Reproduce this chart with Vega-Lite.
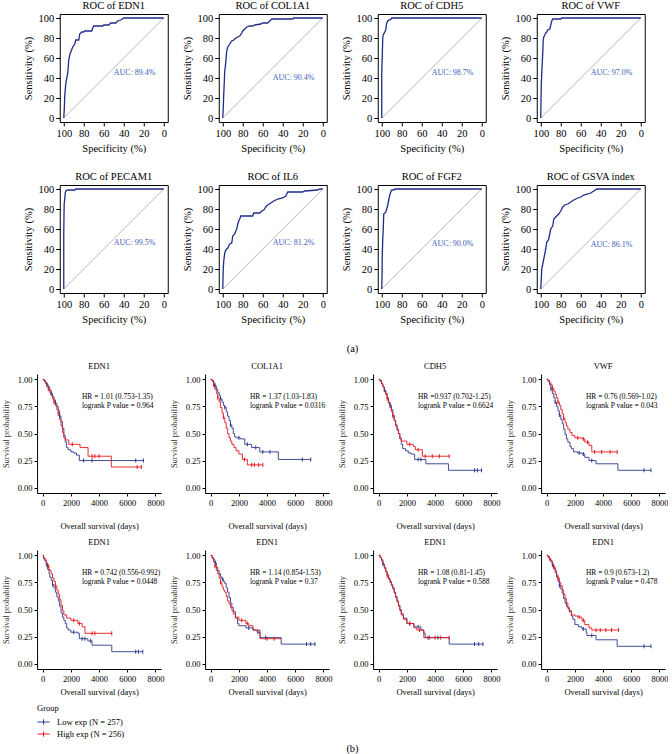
{
"$schema": "https://vega.github.io/schema/vega-lite/v6.json",
"padding": {"left": 1, "top": 0, "right": 0, "bottom": 0},
"spacing": 0,
"center": true,
"resolve": {"scale": {"color": "independent"}},
"config": {
  "font": "Liberation Serif",
  "view": {"stroke": null},
  "title": {"font": "Liberation Serif", "fontSize": 10.5, "fontWeight": "normal", "color": "#000", "offset": 2},
  "style": {"guide-title": {"fontWeight": "normal"}, "group-title": {"fontWeight": "normal"}},
  "axis": {"grid": false, "labelFont": "Liberation Serif", "titleFont": "Liberation Serif", "titleFontWeight": "normal", "labelColor": "#000", "titleColor": "#000", "domainColor": "#000", "tickColor": "#000", "labelOverlap": false, "labelFlush": false},
  "legend": {"titleFontWeight": "normal"},
  "text": {"font": "Liberation Serif"}
},
"datasets": {
  "diag": [{"sp": 100, "se": 0}, {"sp": 0, "se": 100}],
  "roc1": [{"sp":100,"se":0},{"sp":99.5,"se":8},{"sp":99,"se":22},{"sp":98,"se":34},{"sp":97,"se":40},{"sp":96,"se":45},{"sp":95,"se":58},{"sp":94,"se":63},{"sp":93,"se":66},{"sp":91,"se":71},{"sp":89,"se":74},{"sp":88,"se":78},{"sp":85,"se":78},{"sp":84,"se":84},{"sp":82,"se":86},{"sp":80,"se":86},{"sp":79,"se":87},{"sp":72,"se":87},{"sp":71,"se":90},{"sp":70,"se":92},{"sp":61,"se":92},{"sp":60,"se":93},{"sp":55,"se":93},{"sp":53,"se":95},{"sp":48,"se":95},{"sp":46,"se":97},{"sp":43,"se":98},{"sp":40,"se":100},{"sp":0,"se":100}],
  "roc2": [{"sp":100,"se":0},{"sp":99.5,"se":10},{"sp":99,"se":24},{"sp":98.5,"se":35},{"sp":98,"se":47},{"sp":97,"se":55},{"sp":96.5,"se":62},{"sp":96,"se":67},{"sp":95,"se":71},{"sp":93,"se":74},{"sp":91,"se":77},{"sp":89,"se":78},{"sp":87,"se":80},{"sp":85,"se":81},{"sp":83,"se":82},{"sp":81,"se":85},{"sp":80,"se":87},{"sp":78,"se":89},{"sp":76,"se":91},{"sp":73,"se":92},{"sp":70,"se":92},{"sp":68,"se":93},{"sp":62,"se":94},{"sp":60,"se":95},{"sp":55,"se":95},{"sp":53,"se":97},{"sp":51,"se":99},{"sp":30,"se":99},{"sp":29,"se":100},{"sp":0,"se":100}],
  "roc3": [{"sp":100,"se":0},{"sp":100,"se":45},{"sp":99.5,"se":62},{"sp":99,"se":80},{"sp":98.5,"se":83},{"sp":98,"se":84},{"sp":97,"se":86},{"sp":96,"se":88},{"sp":95.5,"se":92},{"sp":95,"se":95},{"sp":94,"se":97},{"sp":93,"se":98},{"sp":91,"se":98.5},{"sp":90,"se":100},{"sp":0,"se":100}],
  "roc4": [{"sp":100,"se":0},{"sp":99.7,"se":20},{"sp":99.5,"se":32},{"sp":99,"se":45},{"sp":98.5,"se":55},{"sp":98,"se":65},{"sp":97.5,"se":78},{"sp":97,"se":81},{"sp":96,"se":83},{"sp":95,"se":85},{"sp":94,"se":86},{"sp":93,"se":88},{"sp":91,"se":89},{"sp":90,"se":93},{"sp":89,"se":97},{"sp":88,"se":99},{"sp":80,"se":99},{"sp":79,"se":100},{"sp":0,"se":100}],
  "roc5": [{"sp":100,"se":0},{"sp":100,"se":55},{"sp":99.7,"se":78},{"sp":99.5,"se":86},{"sp":99,"se":90},{"sp":98.5,"se":96},{"sp":98,"se":98},{"sp":96,"se":99},{"sp":89,"se":99},{"sp":88,"se":100},{"sp":0,"se":100}],
  "roc6": [{"sp":100,"se":0},{"sp":99.7,"se":12},{"sp":99.5,"se":20},{"sp":99,"se":28},{"sp":98,"se":36},{"sp":97,"se":39},{"sp":95,"se":41},{"sp":94,"se":43},{"sp":93,"se":45},{"sp":91,"se":46},{"sp":90,"se":53},{"sp":88,"se":55},{"sp":87,"se":58},{"sp":86,"se":60},{"sp":85,"se":65},{"sp":84,"se":68},{"sp":83,"se":70},{"sp":82,"se":73},{"sp":70,"se":73},{"sp":69,"se":76},{"sp":63,"se":76},{"sp":61,"se":78},{"sp":59,"se":79},{"sp":57,"se":82},{"sp":55,"se":84},{"sp":52,"se":86},{"sp":49,"se":88},{"sp":45,"se":90},{"sp":40,"se":91},{"sp":37,"se":93},{"sp":35,"se":97},{"sp":20,"se":97},{"sp":18,"se":98},{"sp":5,"se":99},{"sp":3,"se":100},{"sp":0,"se":100}],
  "roc7": [{"sp":100,"se":0},{"sp":99.7,"se":15},{"sp":99.5,"se":32},{"sp":99,"se":50},{"sp":98.5,"se":60},{"sp":98,"se":75},{"sp":97,"se":76},{"sp":96,"se":77},{"sp":95,"se":80},{"sp":94,"se":84},{"sp":93,"se":89},{"sp":92,"se":94},{"sp":91,"se":97},{"sp":90,"se":99},{"sp":88,"se":99},{"sp":87,"se":100},{"sp":0,"se":100}],
  "roc8": [{"sp":100,"se":0},{"sp":99.5,"se":10},{"sp":99,"se":20},{"sp":98,"se":25},{"sp":97,"se":30},{"sp":96,"se":35},{"sp":95,"se":40},{"sp":94,"se":47},{"sp":93,"se":48},{"sp":92,"se":50},{"sp":91,"se":55},{"sp":90,"se":60},{"sp":88,"se":63},{"sp":87,"se":70},{"sp":85,"se":72},{"sp":82,"se":75},{"sp":80,"se":78},{"sp":78,"se":82},{"sp":76,"se":84},{"sp":73,"se":85},{"sp":70,"se":87},{"sp":67,"se":89},{"sp":63,"se":91},{"sp":60,"se":92},{"sp":57,"se":94},{"sp":53,"se":95},{"sp":50,"se":96},{"sp":47,"se":98},{"sp":44,"se":100},{"sp":0,"se":100}],
  "km1": [
    {"g":"L","t":0,"s":1},{"g":"L","t":100,"s":0.99},{"g":"L","t":200,"s":0.97},{"g":"L","t":300,"s":0.95},{"g":"L","t":400,"s":0.93},{"g":"L","t":500,"s":0.90},{"g":"L","t":600,"s":0.87},{"g":"L","t":700,"s":0.84},{"g":"L","t":800,"s":0.81},{"g":"L","t":900,"s":0.78},{"g":"L","t":1000,"s":0.75},{"g":"L","t":1100,"s":0.71},{"g":"L","t":1200,"s":0.66},{"g":"L","t":1300,"s":0.61},{"g":"L","t":1400,"s":0.55},{"g":"L","t":1500,"s":0.48},{"g":"L","t":1600,"s":0.42},{"g":"L","t":1700,"s":0.37},{"g":"L","t":1800,"s":0.35},{"g":"L","t":2000,"s":0.33},{"g":"L","t":2200,"s":0.32},{"g":"L","t":2400,"s":0.30},{"g":"L","t":2600,"s":0.25},{"g":"L","t":7150,"s":0.25},
    {"g":"L","t":300,"s":0.95,"c":1},{"g":"L","t":600,"s":0.87,"c":1},{"g":"L","t":900,"s":0.78,"c":1},{"g":"L","t":1200,"s":0.66,"c":1},{"g":"L","t":2900,"s":0.25,"c":1},{"g":"L","t":3500,"s":0.25,"c":1},{"g":"L","t":6600,"s":0.25,"c":1},{"g":"L","t":7150,"s":0.25,"c":1},
    {"g":"H","t":0,"s":1},{"g":"H","t":100,"s":0.98},{"g":"H","t":200,"s":0.96},{"g":"H","t":300,"s":0.93},{"g":"H","t":400,"s":0.91},{"g":"H","t":500,"s":0.88},{"g":"H","t":600,"s":0.85},{"g":"H","t":700,"s":0.82},{"g":"H","t":800,"s":0.79},{"g":"H","t":900,"s":0.76},{"g":"H","t":1000,"s":0.72},{"g":"H","t":1100,"s":0.68},{"g":"H","t":1200,"s":0.63},{"g":"H","t":1300,"s":0.57},{"g":"H","t":1400,"s":0.51},{"g":"H","t":1500,"s":0.46},{"g":"H","t":1600,"s":0.44},{"g":"H","t":1850,"s":0.40},{"g":"H","t":2650,"s":0.37},{"g":"H","t":3220,"s":0.29},{"g":"H","t":4870,"s":0.19},{"g":"H","t":7000,"s":0.19},
    {"g":"H","t":400,"s":0.91,"c":1},{"g":"H","t":800,"s":0.79,"c":1},{"g":"H","t":1100,"s":0.68,"c":1},{"g":"H","t":2100,"s":0.40,"c":1},{"g":"H","t":3500,"s":0.29,"c":1},{"g":"H","t":3700,"s":0.29,"c":1},{"g":"H","t":4000,"s":0.29,"c":1},{"g":"H","t":6700,"s":0.19,"c":1},{"g":"H","t":7000,"s":0.19,"c":1}
  ],
  "km2": [
    {"g":"L","t":0,"s":1},{"g":"L","t":100,"s":0.99},{"g":"L","t":200,"s":0.97},{"g":"L","t":300,"s":0.94},{"g":"L","t":400,"s":0.91},{"g":"L","t":500,"s":0.88},{"g":"L","t":600,"s":0.85},{"g":"L","t":700,"s":0.82},{"g":"L","t":800,"s":0.79},{"g":"L","t":900,"s":0.76},{"g":"L","t":1000,"s":0.74},{"g":"L","t":1100,"s":0.70},{"g":"L","t":1200,"s":0.66},{"g":"L","t":1300,"s":0.62},{"g":"L","t":1400,"s":0.58},{"g":"L","t":1500,"s":0.55},{"g":"L","t":1600,"s":0.50},{"g":"L","t":1700,"s":0.47},{"g":"L","t":1800,"s":0.46},{"g":"L","t":2100,"s":0.45},{"g":"L","t":2420,"s":0.40},{"g":"L","t":2900,"s":0.37},{"g":"L","t":3480,"s":0.33},{"g":"L","t":4800,"s":0.26},{"g":"L","t":7100,"s":0.26},
    {"g":"L","t":300,"s":0.94,"c":1},{"g":"L","t":700,"s":0.82,"c":1},{"g":"L","t":1000,"s":0.74,"c":1},{"g":"L","t":1400,"s":0.58,"c":1},{"g":"L","t":2000,"s":0.46,"c":1},{"g":"L","t":2600,"s":0.40,"c":1},{"g":"L","t":3200,"s":0.37,"c":1},{"g":"L","t":3700,"s":0.33,"c":1},{"g":"L","t":4200,"s":0.33,"c":1},{"g":"L","t":6500,"s":0.26,"c":1},{"g":"L","t":7100,"s":0.26,"c":1},
    {"g":"H","t":0,"s":1},{"g":"H","t":100,"s":0.98},{"g":"H","t":200,"s":0.95},{"g":"H","t":300,"s":0.91},{"g":"H","t":400,"s":0.87},{"g":"H","t":500,"s":0.83},{"g":"H","t":600,"s":0.79},{"g":"H","t":700,"s":0.74},{"g":"H","t":800,"s":0.69},{"g":"H","t":900,"s":0.65},{"g":"H","t":1000,"s":0.60},{"g":"H","t":1100,"s":0.55},{"g":"H","t":1200,"s":0.50},{"g":"H","t":1300,"s":0.46},{"g":"H","t":1400,"s":0.43},{"g":"H","t":1500,"s":0.40},{"g":"H","t":1650,"s":0.37},{"g":"H","t":1800,"s":0.34},{"g":"H","t":2000,"s":0.31},{"g":"H","t":2250,"s":0.26},{"g":"H","t":2600,"s":0.21},{"g":"H","t":3700,"s":0.21},
    {"g":"H","t":200,"s":0.95,"c":1},{"g":"H","t":500,"s":0.83,"c":1},{"g":"H","t":900,"s":0.65,"c":1},{"g":"H","t":2400,"s":0.26,"c":1},{"g":"H","t":2900,"s":0.21,"c":1},{"g":"H","t":3100,"s":0.21,"c":1},{"g":"H","t":3400,"s":0.21,"c":1},{"g":"H","t":3700,"s":0.21,"c":1}
  ],
  "km3": [
    {"g":"L","t":0,"s":1},{"g":"L","t":100,"s":0.99},{"g":"L","t":200,"s":0.96},{"g":"L","t":300,"s":0.93},{"g":"L","t":400,"s":0.90},{"g":"L","t":500,"s":0.87},{"g":"L","t":600,"s":0.83},{"g":"L","t":700,"s":0.79},{"g":"L","t":800,"s":0.76},{"g":"L","t":900,"s":0.72},{"g":"L","t":1000,"s":0.67},{"g":"L","t":1100,"s":0.62},{"g":"L","t":1200,"s":0.58},{"g":"L","t":1300,"s":0.54},{"g":"L","t":1400,"s":0.50},{"g":"L","t":1500,"s":0.45},{"g":"L","t":1600,"s":0.40},{"g":"L","t":1700,"s":0.36},{"g":"L","t":1900,"s":0.34},{"g":"L","t":2100,"s":0.32},{"g":"L","t":2300,"s":0.31},{"g":"L","t":2550,"s":0.26},{"g":"L","t":3350,"s":0.22},{"g":"L","t":4950,"s":0.16},{"g":"L","t":7300,"s":0.16},
    {"g":"L","t":400,"s":0.90,"c":1},{"g":"L","t":800,"s":0.76,"c":1},{"g":"L","t":2800,"s":0.26,"c":1},{"g":"L","t":3000,"s":0.26,"c":1},{"g":"L","t":6800,"s":0.16,"c":1},{"g":"L","t":7000,"s":0.16,"c":1},{"g":"L","t":7300,"s":0.16,"c":1},
    {"g":"H","t":0,"s":1},{"g":"H","t":100,"s":0.98},{"g":"H","t":200,"s":0.96},{"g":"H","t":300,"s":0.93},{"g":"H","t":400,"s":0.89},{"g":"H","t":500,"s":0.86},{"g":"H","t":600,"s":0.82},{"g":"H","t":700,"s":0.78},{"g":"H","t":800,"s":0.74},{"g":"H","t":900,"s":0.70},{"g":"H","t":1000,"s":0.66},{"g":"H","t":1100,"s":0.62},{"g":"H","t":1200,"s":0.57},{"g":"H","t":1300,"s":0.53},{"g":"H","t":1400,"s":0.50},{"g":"H","t":1500,"s":0.46},{"g":"H","t":1600,"s":0.43},{"g":"H","t":2000,"s":0.40},{"g":"H","t":2450,"s":0.38},{"g":"H","t":2600,"s":0.35},{"g":"H","t":3100,"s":0.29},{"g":"H","t":5000,"s":0.29},
    {"g":"H","t":600,"s":0.82,"c":1},{"g":"H","t":1000,"s":0.66,"c":1},{"g":"H","t":2200,"s":0.40,"c":1},{"g":"H","t":2800,"s":0.35,"c":1},{"g":"H","t":3300,"s":0.29,"c":1},{"g":"H","t":3800,"s":0.29,"c":1},{"g":"H","t":4300,"s":0.29,"c":1},{"g":"H","t":5000,"s":0.29,"c":1}
  ],
  "km4": [
    {"g":"L","t":0,"s":1},{"g":"L","t":100,"s":0.98},{"g":"L","t":200,"s":0.95},{"g":"L","t":300,"s":0.91},{"g":"L","t":400,"s":0.87},{"g":"L","t":500,"s":0.83},{"g":"L","t":600,"s":0.79},{"g":"L","t":700,"s":0.75},{"g":"L","t":800,"s":0.71},{"g":"L","t":900,"s":0.67},{"g":"L","t":1000,"s":0.63},{"g":"L","t":1100,"s":0.59},{"g":"L","t":1200,"s":0.54},{"g":"L","t":1300,"s":0.49},{"g":"L","t":1400,"s":0.45},{"g":"L","t":1500,"s":0.42},{"g":"L","t":1650,"s":0.38},{"g":"L","t":1750,"s":0.36},{"g":"L","t":1900,"s":0.33},{"g":"L","t":2200,"s":0.32},{"g":"L","t":2500,"s":0.31},{"g":"L","t":2700,"s":0.28},{"g":"L","t":3000,"s":0.25},{"g":"L","t":3500,"s":0.22},{"g":"L","t":5050,"s":0.16},{"g":"L","t":7400,"s":0.16},
    {"g":"L","t":300,"s":0.91,"c":1},{"g":"L","t":600,"s":0.79,"c":1},{"g":"L","t":900,"s":0.67,"c":1},{"g":"L","t":2300,"s":0.32,"c":1},{"g":"L","t":2600,"s":0.31,"c":1},{"g":"L","t":3200,"s":0.25,"c":1},{"g":"L","t":6900,"s":0.16,"c":1},{"g":"L","t":7400,"s":0.16,"c":1},
    {"g":"H","t":0,"s":1},{"g":"H","t":100,"s":0.99},{"g":"H","t":200,"s":0.97},{"g":"H","t":300,"s":0.95},{"g":"H","t":400,"s":0.92},{"g":"H","t":500,"s":0.89},{"g":"H","t":600,"s":0.86},{"g":"H","t":700,"s":0.83},{"g":"H","t":800,"s":0.79},{"g":"H","t":900,"s":0.76},{"g":"H","t":1000,"s":0.72},{"g":"H","t":1100,"s":0.68},{"g":"H","t":1200,"s":0.64},{"g":"H","t":1300,"s":0.60},{"g":"H","t":1400,"s":0.57},{"g":"H","t":1500,"s":0.54},{"g":"H","t":1650,"s":0.51},{"g":"H","t":1800,"s":0.48},{"g":"H","t":2000,"s":0.46},{"g":"H","t":2500,"s":0.45},{"g":"H","t":2700,"s":0.42},{"g":"H","t":3000,"s":0.39},{"g":"H","t":3200,"s":0.33},{"g":"H","t":5000,"s":0.33},
    {"g":"H","t":400,"s":0.92,"c":1},{"g":"H","t":800,"s":0.79,"c":1},{"g":"H","t":1200,"s":0.64,"c":1},{"g":"H","t":2200,"s":0.46,"c":1},{"g":"H","t":2600,"s":0.45,"c":1},{"g":"H","t":2900,"s":0.42,"c":1},{"g":"H","t":3400,"s":0.33,"c":1},{"g":"H","t":3900,"s":0.33,"c":1},{"g":"H","t":4500,"s":0.33,"c":1},{"g":"H","t":5000,"s":0.33,"c":1}
  ],
  "km5": [
    {"g":"L","t":0,"s":1},{"g":"L","t":60,"s":0.97},{"g":"L","t":150,"s":0.95},{"g":"L","t":250,"s":0.91},{"g":"L","t":350,"s":0.87},{"g":"L","t":450,"s":0.83},{"g":"L","t":500,"s":0.80},{"g":"L","t":600,"s":0.77},{"g":"L","t":700,"s":0.73},{"g":"L","t":800,"s":0.70},{"g":"L","t":900,"s":0.66},{"g":"L","t":1000,"s":0.62},{"g":"L","t":1100,"s":0.58},{"g":"L","t":1200,"s":0.53},{"g":"L","t":1300,"s":0.47},{"g":"L","t":1400,"s":0.43},{"g":"L","t":1500,"s":0.40},{"g":"L","t":1600,"s":0.37},{"g":"L","t":1700,"s":0.33},{"g":"L","t":1800,"s":0.31},{"g":"L","t":2000,"s":0.29},{"g":"L","t":2500,"s":0.28},{"g":"L","t":2600,"s":0.23},{"g":"L","t":3200,"s":0.21},{"g":"L","t":3500,"s":0.17},{"g":"L","t":4900,"s":0.11},{"g":"L","t":7100,"s":0.11},
    {"g":"L","t":300,"s":0.91,"c":1},{"g":"L","t":700,"s":0.73,"c":1},{"g":"L","t":2200,"s":0.29,"c":1},{"g":"L","t":2800,"s":0.23,"c":1},{"g":"L","t":3000,"s":0.23,"c":1},{"g":"L","t":3400,"s":0.21,"c":1},{"g":"L","t":6600,"s":0.11,"c":1},{"g":"L","t":6800,"s":0.11,"c":1},{"g":"L","t":7100,"s":0.11,"c":1},
    {"g":"H","t":0,"s":1},{"g":"H","t":60,"s":0.98},{"g":"H","t":150,"s":0.96},{"g":"H","t":250,"s":0.93},{"g":"H","t":350,"s":0.90},{"g":"H","t":450,"s":0.87},{"g":"H","t":500,"s":0.86},{"g":"H","t":600,"s":0.83},{"g":"H","t":700,"s":0.79},{"g":"H","t":800,"s":0.76},{"g":"H","t":900,"s":0.72},{"g":"H","t":1000,"s":0.68},{"g":"H","t":1100,"s":0.64},{"g":"H","t":1200,"s":0.59},{"g":"H","t":1300,"s":0.54},{"g":"H","t":1400,"s":0.49},{"g":"H","t":1500,"s":0.45},{"g":"H","t":1700,"s":0.42},{"g":"H","t":2000,"s":0.40},{"g":"H","t":2500,"s":0.37},{"g":"H","t":2800,"s":0.34},{"g":"H","t":3000,"s":0.28},{"g":"H","t":4900,"s":0.28},
    {"g":"H","t":400,"s":0.90,"c":1},{"g":"H","t":900,"s":0.72,"c":1},{"g":"H","t":2200,"s":0.40,"c":1},{"g":"H","t":2600,"s":0.37,"c":1},{"g":"H","t":3500,"s":0.28,"c":1},{"g":"H","t":3700,"s":0.28,"c":1},{"g":"H","t":4900,"s":0.28,"c":1}
  ],
  "km6": [
    {"g":"L","t":0,"s":1},{"g":"L","t":100,"s":0.98},{"g":"L","t":200,"s":0.96},{"g":"L","t":300,"s":0.93},{"g":"L","t":400,"s":0.89},{"g":"L","t":500,"s":0.86},{"g":"L","t":600,"s":0.83},{"g":"L","t":700,"s":0.80},{"g":"L","t":800,"s":0.78},{"g":"L","t":900,"s":0.76},{"g":"L","t":1000,"s":0.74},{"g":"L","t":1100,"s":0.70},{"g":"L","t":1200,"s":0.66},{"g":"L","t":1300,"s":0.61},{"g":"L","t":1400,"s":0.56},{"g":"L","t":1500,"s":0.52},{"g":"L","t":1600,"s":0.48},{"g":"L","t":1750,"s":0.42},{"g":"L","t":1900,"s":0.37},{"g":"L","t":2000,"s":0.35},{"g":"L","t":2500,"s":0.33},{"g":"L","t":3000,"s":0.31},{"g":"L","t":3300,"s":0.29},{"g":"L","t":3500,"s":0.24},{"g":"L","t":5000,"s":0.18},{"g":"L","t":7400,"s":0.18},
    {"g":"L","t":350,"s":0.93,"c":1},{"g":"L","t":850,"s":0.78,"c":1},{"g":"L","t":2700,"s":0.33,"c":1},{"g":"L","t":3350,"s":0.29,"c":1},{"g":"L","t":3900,"s":0.24,"c":1},{"g":"L","t":6800,"s":0.18,"c":1},{"g":"L","t":7100,"s":0.18,"c":1},{"g":"L","t":7400,"s":0.18,"c":1},
    {"g":"H","t":0,"s":1},{"g":"H","t":100,"s":0.97},{"g":"H","t":200,"s":0.94},{"g":"H","t":300,"s":0.90},{"g":"H","t":400,"s":0.86},{"g":"H","t":500,"s":0.83},{"g":"H","t":600,"s":0.79},{"g":"H","t":700,"s":0.75},{"g":"H","t":800,"s":0.71},{"g":"H","t":900,"s":0.68},{"g":"H","t":1000,"s":0.66},{"g":"H","t":1100,"s":0.62},{"g":"H","t":1200,"s":0.58},{"g":"H","t":1300,"s":0.55},{"g":"H","t":1400,"s":0.52},{"g":"H","t":1500,"s":0.49},{"g":"H","t":1600,"s":0.46},{"g":"H","t":1750,"s":0.43},{"g":"H","t":2000,"s":0.40},{"g":"H","t":2500,"s":0.37},{"g":"H","t":2700,"s":0.35},{"g":"H","t":3000,"s":0.31},{"g":"H","t":3500,"s":0.23},{"g":"H","t":5000,"s":0.23},
    {"g":"H","t":300,"s":0.90,"c":1},{"g":"H","t":700,"s":0.75,"c":1},{"g":"H","t":2200,"s":0.40,"c":1},{"g":"H","t":2600,"s":0.37,"c":1},{"g":"H","t":4000,"s":0.23,"c":1},{"g":"H","t":4500,"s":0.23,"c":1}
  ],
  "km7": [
    {"g":"L","t":0,"s":1},{"g":"L","t":100,"s":0.98},{"g":"L","t":200,"s":0.96},{"g":"L","t":300,"s":0.92},{"g":"L","t":400,"s":0.89},{"g":"L","t":500,"s":0.85},{"g":"L","t":600,"s":0.82},{"g":"L","t":700,"s":0.79},{"g":"L","t":800,"s":0.76},{"g":"L","t":900,"s":0.73},{"g":"L","t":1000,"s":0.70},{"g":"L","t":1100,"s":0.66},{"g":"L","t":1200,"s":0.62},{"g":"L","t":1300,"s":0.58},{"g":"L","t":1400,"s":0.54},{"g":"L","t":1500,"s":0.50},{"g":"L","t":1600,"s":0.46},{"g":"L","t":1750,"s":0.42},{"g":"L","t":2000,"s":0.37},{"g":"L","t":2500,"s":0.34},{"g":"L","t":3000,"s":0.31},{"g":"L","t":3200,"s":0.28},{"g":"L","t":3300,"s":0.24},{"g":"L","t":5000,"s":0.18},{"g":"L","t":7400,"s":0.18},
    {"g":"L","t":300,"s":0.92,"c":1},{"g":"L","t":2200,"s":0.37,"c":1},{"g":"L","t":2800,"s":0.34,"c":1},{"g":"L","t":3500,"s":0.24,"c":1},{"g":"L","t":4200,"s":0.24,"c":1},{"g":"L","t":6800,"s":0.18,"c":1},{"g":"L","t":7100,"s":0.18,"c":1},{"g":"L","t":7400,"s":0.18,"c":1},
    {"g":"H","t":0,"s":1},{"g":"H","t":100,"s":0.98},{"g":"H","t":200,"s":0.95},{"g":"H","t":300,"s":0.92},{"g":"H","t":400,"s":0.88},{"g":"H","t":500,"s":0.85},{"g":"H","t":600,"s":0.81},{"g":"H","t":700,"s":0.78},{"g":"H","t":800,"s":0.75},{"g":"H","t":900,"s":0.72},{"g":"H","t":1000,"s":0.69},{"g":"H","t":1100,"s":0.65},{"g":"H","t":1200,"s":0.61},{"g":"H","t":1300,"s":0.57},{"g":"H","t":1400,"s":0.53},{"g":"H","t":1500,"s":0.49},{"g":"H","t":1600,"s":0.45},{"g":"H","t":1750,"s":0.41},{"g":"H","t":2000,"s":0.37},{"g":"H","t":2500,"s":0.33},{"g":"H","t":2700,"s":0.31},{"g":"H","t":3200,"s":0.24},{"g":"H","t":5000,"s":0.24},
    {"g":"H","t":600,"s":0.81,"c":1},{"g":"H","t":2200,"s":0.37,"c":1},{"g":"H","t":2900,"s":0.31,"c":1},{"g":"H","t":3600,"s":0.24,"c":1},{"g":"H","t":4000,"s":0.24,"c":1},{"g":"H","t":4400,"s":0.24,"c":1},{"g":"H","t":5000,"s":0.24,"c":1}
  ],
  "km8": [
    {"g":"L","t":0,"s":1},{"g":"L","t":100,"s":0.98},{"g":"L","t":200,"s":0.96},{"g":"L","t":300,"s":0.94},{"g":"L","t":400,"s":0.91},{"g":"L","t":500,"s":0.88},{"g":"L","t":600,"s":0.84},{"g":"L","t":700,"s":0.80},{"g":"L","t":800,"s":0.76},{"g":"L","t":900,"s":0.72},{"g":"L","t":1000,"s":0.69},{"g":"L","t":1100,"s":0.65},{"g":"L","t":1200,"s":0.60},{"g":"L","t":1300,"s":0.56},{"g":"L","t":1400,"s":0.53},{"g":"L","t":1500,"s":0.51},{"g":"L","t":1600,"s":0.48},{"g":"L","t":1750,"s":0.44},{"g":"L","t":1850,"s":0.41},{"g":"L","t":2000,"s":0.36},{"g":"L","t":2250,"s":0.34},{"g":"L","t":2500,"s":0.32},{"g":"L","t":2800,"s":0.29},{"g":"L","t":2850,"s":0.26},{"g":"L","t":3500,"s":0.22},{"g":"L","t":5000,"s":0.16},{"g":"L","t":7400,"s":0.16},
    {"g":"L","t":400,"s":0.91,"c":1},{"g":"L","t":900,"s":0.72,"c":1},{"g":"L","t":2600,"s":0.32,"c":1},{"g":"L","t":3200,"s":0.26,"c":1},{"g":"L","t":6900,"s":0.16,"c":1},{"g":"L","t":7400,"s":0.16,"c":1},
    {"g":"H","t":0,"s":1},{"g":"H","t":100,"s":0.99},{"g":"H","t":200,"s":0.97},{"g":"H","t":300,"s":0.95},{"g":"H","t":400,"s":0.92},{"g":"H","t":500,"s":0.89},{"g":"H","t":600,"s":0.86},{"g":"H","t":700,"s":0.82},{"g":"H","t":800,"s":0.79},{"g":"H","t":900,"s":0.75},{"g":"H","t":1000,"s":0.72},{"g":"H","t":1100,"s":0.68},{"g":"H","t":1200,"s":0.64},{"g":"H","t":1300,"s":0.60},{"g":"H","t":1400,"s":0.56},{"g":"H","t":1500,"s":0.52},{"g":"H","t":1600,"s":0.49},{"g":"H","t":1750,"s":0.45},{"g":"H","t":2000,"s":0.44},{"g":"H","t":2200,"s":0.43},{"g":"H","t":2500,"s":0.40},{"g":"H","t":2700,"s":0.36},{"g":"H","t":3000,"s":0.33},{"g":"H","t":3200,"s":0.31},{"g":"H","t":5100,"s":0.31},
    {"g":"H","t":200,"s":0.97,"c":1},{"g":"H","t":500,"s":0.89,"c":1},{"g":"H","t":800,"s":0.79,"c":1},{"g":"H","t":2300,"s":0.43,"c":1},{"g":"H","t":2600,"s":0.40,"c":1},{"g":"H","t":3500,"s":0.31,"c":1},{"g":"H","t":3800,"s":0.31,"c":1},{"g":"H","t":4200,"s":0.31,"c":1},{"g":"H","t":4600,"s":0.31,"c":1},{"g":"H","t":5100,"s":0.31,"c":1}
  ]
},
"vconcat": [
  {"spacing": 16, "vconcat": [
    {"spacing": 12, "hconcat": [
      {"title": "ROC of EDN1", "width": 108, "height": 108, "view": {"stroke": "#000", "strokeWidth": 1},
       "layer": [
         {"data": {"name": "diag"}, "mark": {"type": "line", "color": "#8a8a8a", "strokeWidth": 0.6},
          "encoding": {"x": {"field": "sp", "type": "quantitative", "scale": {"domain": [-4, 104], "reverse": true, "nice": false, "zero": false}, "axis": {"values": [100,80,60,40,20,0], "title": "Specificity (%)", "domain": false, "tickSize": 4, "labelPadding": 2, "titlePadding": 5, "labelFontSize": 10.5, "titleFontSize": 10.5, "titleFontWeight": "normal", "labelOverlap": false}},
                       "y": {"field": "se", "type": "quantitative", "scale": {"domain": [-4, 104], "nice": false, "zero": false}, "axis": {"values": [0,20,40,60,80,100], "title": "Sensitivity (%)", "domain": false, "tickSize": 4, "labelPadding": 2, "titlePadding": 5, "labelFontSize": 10.5, "titleFontSize": 10.5, "titleFontWeight": "normal", "labelOverlap": false}}}},
         {"data": {"name": "roc1"}, "mark": {"type": "line", "color": "#1f2d86", "strokeWidth": 1.3},
          "encoding": {"x": {"field": "sp", "type": "quantitative", "scale": {"domain": [-4, 104], "reverse": true, "nice": false, "zero": false}, "axis": {"values": [100,80,60,40,20,0], "title": "Specificity (%)", "domain": false, "tickSize": 4, "labelPadding": 2, "titlePadding": 5, "labelFontSize": 10.5, "titleFontSize": 10.5, "titleFontWeight": "normal", "labelOverlap": false}},
                       "y": {"field": "se", "type": "quantitative", "scale": {"domain": [-4, 104], "nice": false, "zero": false}, "axis": {"values": [0,20,40,60,80,100], "title": "Sensitivity (%)", "domain": false, "tickSize": 4, "labelPadding": 2, "titlePadding": 5, "labelFontSize": 10.5, "titleFontSize": 10.5, "titleFontWeight": "normal", "labelOverlap": false}},
                       "order": {"field": "se", "type": "quantitative"}}},
         {"data": {"values": [{"l": "AUC: 89.4%"}]}, "mark": {"type": "text", "align": "left", "baseline": "middle", "fontSize": 8, "color": "#3b5bb8"},
          "encoding": {"x": {"datum": 50, "type": "quantitative", "scale": {"domain": [-4, 104], "reverse": true, "nice": false, "zero": false}, "axis": {"values": [100,80,60,40,20,0], "title": "Specificity (%)", "domain": false, "tickSize": 4, "labelPadding": 2, "titlePadding": 5, "labelFontSize": 10.5, "titleFontSize": 10.5, "titleFontWeight": "normal", "labelOverlap": false}},
                       "y": {"datum": 45, "type": "quantitative", "scale": {"domain": [-4, 104], "nice": false, "zero": false}, "axis": {"values": [0,20,40,60,80,100], "title": "Sensitivity (%)", "domain": false, "tickSize": 4, "labelPadding": 2, "titlePadding": 5, "labelFontSize": 10.5, "titleFontSize": 10.5, "titleFontWeight": "normal", "labelOverlap": false}},
                       "text": {"field": "l"}}}
       ]},
      {"title": "ROC of COL1A1", "width": 108, "height": 108, "view": {"stroke": "#000", "strokeWidth": 1},
       "layer": [
         {"data": {"name": "diag"}, "mark": {"type": "line", "color": "#8a8a8a", "strokeWidth": 0.6},
          "encoding": {"x": {"field": "sp", "type": "quantitative", "scale": {"domain": [-4, 104], "reverse": true, "nice": false, "zero": false}, "axis": {"values": [100,80,60,40,20,0], "title": "Specificity (%)", "domain": false, "tickSize": 4, "labelPadding": 2, "titlePadding": 5, "labelFontSize": 10.5, "titleFontSize": 10.5, "titleFontWeight": "normal", "labelOverlap": false}},
                       "y": {"field": "se", "type": "quantitative", "scale": {"domain": [-4, 104], "nice": false, "zero": false}, "axis": {"values": [0,20,40,60,80,100], "title": "Sensitivity (%)", "domain": false, "tickSize": 4, "labelPadding": 2, "titlePadding": 5, "labelFontSize": 10.5, "titleFontSize": 10.5, "titleFontWeight": "normal", "labelOverlap": false}}}},
         {"data": {"name": "roc2"}, "mark": {"type": "line", "color": "#1f2d86", "strokeWidth": 1.3},
          "encoding": {"x": {"field": "sp", "type": "quantitative", "scale": {"domain": [-4, 104], "reverse": true, "nice": false, "zero": false}, "axis": {"values": [100,80,60,40,20,0], "title": "Specificity (%)", "domain": false, "tickSize": 4, "labelPadding": 2, "titlePadding": 5, "labelFontSize": 10.5, "titleFontSize": 10.5, "titleFontWeight": "normal", "labelOverlap": false}},
                       "y": {"field": "se", "type": "quantitative", "scale": {"domain": [-4, 104], "nice": false, "zero": false}, "axis": {"values": [0,20,40,60,80,100], "title": "Sensitivity (%)", "domain": false, "tickSize": 4, "labelPadding": 2, "titlePadding": 5, "labelFontSize": 10.5, "titleFontSize": 10.5, "titleFontWeight": "normal", "labelOverlap": false}},
                       "order": {"field": "se", "type": "quantitative"}}},
         {"data": {"values": [{"l": "AUC: 90.4%"}]}, "mark": {"type": "text", "align": "left", "baseline": "middle", "fontSize": 8, "color": "#3b5bb8"},
          "encoding": {"x": {"datum": 50, "type": "quantitative", "scale": {"domain": [-4, 104], "reverse": true, "nice": false, "zero": false}, "axis": {"values": [100,80,60,40,20,0], "title": "Specificity (%)", "domain": false, "tickSize": 4, "labelPadding": 2, "titlePadding": 5, "labelFontSize": 10.5, "titleFontSize": 10.5, "titleFontWeight": "normal", "labelOverlap": false}},
                       "y": {"datum": 40, "type": "quantitative", "scale": {"domain": [-4, 104], "nice": false, "zero": false}, "axis": {"values": [0,20,40,60,80,100], "title": "Sensitivity (%)", "domain": false, "tickSize": 4, "labelPadding": 2, "titlePadding": 5, "labelFontSize": 10.5, "titleFontSize": 10.5, "titleFontWeight": "normal", "labelOverlap": false}},
                       "text": {"field": "l"}}}
       ]},
      {"title": "ROC of CDH5", "width": 108, "height": 108, "view": {"stroke": "#000", "strokeWidth": 1},
       "layer": [
         {"data": {"name": "diag"}, "mark": {"type": "line", "color": "#8a8a8a", "strokeWidth": 0.6},
          "encoding": {"x": {"field": "sp", "type": "quantitative", "scale": {"domain": [-4, 104], "reverse": true, "nice": false, "zero": false}, "axis": {"values": [100,80,60,40,20,0], "title": "Specificity (%)", "domain": false, "tickSize": 4, "labelPadding": 2, "titlePadding": 5, "labelFontSize": 10.5, "titleFontSize": 10.5, "titleFontWeight": "normal", "labelOverlap": false}},
                       "y": {"field": "se", "type": "quantitative", "scale": {"domain": [-4, 104], "nice": false, "zero": false}, "axis": {"values": [0,20,40,60,80,100], "title": "Sensitivity (%)", "domain": false, "tickSize": 4, "labelPadding": 2, "titlePadding": 5, "labelFontSize": 10.5, "titleFontSize": 10.5, "titleFontWeight": "normal", "labelOverlap": false}}}},
         {"data": {"name": "roc3"}, "mark": {"type": "line", "color": "#1f2d86", "strokeWidth": 1.3},
          "encoding": {"x": {"field": "sp", "type": "quantitative", "scale": {"domain": [-4, 104], "reverse": true, "nice": false, "zero": false}, "axis": {"values": [100,80,60,40,20,0], "title": "Specificity (%)", "domain": false, "tickSize": 4, "labelPadding": 2, "titlePadding": 5, "labelFontSize": 10.5, "titleFontSize": 10.5, "titleFontWeight": "normal", "labelOverlap": false}},
                       "y": {"field": "se", "type": "quantitative", "scale": {"domain": [-4, 104], "nice": false, "zero": false}, "axis": {"values": [0,20,40,60,80,100], "title": "Sensitivity (%)", "domain": false, "tickSize": 4, "labelPadding": 2, "titlePadding": 5, "labelFontSize": 10.5, "titleFontSize": 10.5, "titleFontWeight": "normal", "labelOverlap": false}},
                       "order": {"field": "se", "type": "quantitative"}}},
         {"data": {"values": [{"l": "AUC: 98.7%"}]}, "mark": {"type": "text", "align": "left", "baseline": "middle", "fontSize": 8, "color": "#3b5bb8"},
          "encoding": {"x": {"datum": 50, "type": "quantitative", "scale": {"domain": [-4, 104], "reverse": true, "nice": false, "zero": false}, "axis": {"values": [100,80,60,40,20,0], "title": "Specificity (%)", "domain": false, "tickSize": 4, "labelPadding": 2, "titlePadding": 5, "labelFontSize": 10.5, "titleFontSize": 10.5, "titleFontWeight": "normal", "labelOverlap": false}},
                       "y": {"datum": 45, "type": "quantitative", "scale": {"domain": [-4, 104], "nice": false, "zero": false}, "axis": {"values": [0,20,40,60,80,100], "title": "Sensitivity (%)", "domain": false, "tickSize": 4, "labelPadding": 2, "titlePadding": 5, "labelFontSize": 10.5, "titleFontSize": 10.5, "titleFontWeight": "normal", "labelOverlap": false}},
                       "text": {"field": "l"}}}
       ]},
      {"title": "ROC of VWF", "width": 108, "height": 108, "view": {"stroke": "#000", "strokeWidth": 1},
       "layer": [
         {"data": {"name": "diag"}, "mark": {"type": "line", "color": "#8a8a8a", "strokeWidth": 0.6},
          "encoding": {"x": {"field": "sp", "type": "quantitative", "scale": {"domain": [-4, 104], "reverse": true, "nice": false, "zero": false}, "axis": {"values": [100,80,60,40,20,0], "title": "Specificity (%)", "domain": false, "tickSize": 4, "labelPadding": 2, "titlePadding": 5, "labelFontSize": 10.5, "titleFontSize": 10.5, "titleFontWeight": "normal", "labelOverlap": false}},
                       "y": {"field": "se", "type": "quantitative", "scale": {"domain": [-4, 104], "nice": false, "zero": false}, "axis": {"values": [0,20,40,60,80,100], "title": "Sensitivity (%)", "domain": false, "tickSize": 4, "labelPadding": 2, "titlePadding": 5, "labelFontSize": 10.5, "titleFontSize": 10.5, "titleFontWeight": "normal", "labelOverlap": false}}}},
         {"data": {"name": "roc4"}, "mark": {"type": "line", "color": "#1f2d86", "strokeWidth": 1.3},
          "encoding": {"x": {"field": "sp", "type": "quantitative", "scale": {"domain": [-4, 104], "reverse": true, "nice": false, "zero": false}, "axis": {"values": [100,80,60,40,20,0], "title": "Specificity (%)", "domain": false, "tickSize": 4, "labelPadding": 2, "titlePadding": 5, "labelFontSize": 10.5, "titleFontSize": 10.5, "titleFontWeight": "normal", "labelOverlap": false}},
                       "y": {"field": "se", "type": "quantitative", "scale": {"domain": [-4, 104], "nice": false, "zero": false}, "axis": {"values": [0,20,40,60,80,100], "title": "Sensitivity (%)", "domain": false, "tickSize": 4, "labelPadding": 2, "titlePadding": 5, "labelFontSize": 10.5, "titleFontSize": 10.5, "titleFontWeight": "normal", "labelOverlap": false}},
                       "order": {"field": "se", "type": "quantitative"}}},
         {"data": {"values": [{"l": "AUC: 97.0%"}]}, "mark": {"type": "text", "align": "left", "baseline": "middle", "fontSize": 8, "color": "#3b5bb8"},
          "encoding": {"x": {"datum": 50, "type": "quantitative", "scale": {"domain": [-4, 104], "reverse": true, "nice": false, "zero": false}, "axis": {"values": [100,80,60,40,20,0], "title": "Specificity (%)", "domain": false, "tickSize": 4, "labelPadding": 2, "titlePadding": 5, "labelFontSize": 10.5, "titleFontSize": 10.5, "titleFontWeight": "normal", "labelOverlap": false}},
                       "y": {"datum": 45, "type": "quantitative", "scale": {"domain": [-4, 104], "nice": false, "zero": false}, "axis": {"values": [0,20,40,60,80,100], "title": "Sensitivity (%)", "domain": false, "tickSize": 4, "labelPadding": 2, "titlePadding": 5, "labelFontSize": 10.5, "titleFontSize": 10.5, "titleFontWeight": "normal", "labelOverlap": false}},
                       "text": {"field": "l"}}}
       ]}
    ]},
    {"spacing": 12, "hconcat": [
      {"title": "ROC of PECAM1", "width": 108, "height": 108, "view": {"stroke": "#000", "strokeWidth": 1},
       "layer": [
         {"data": {"name": "diag"}, "mark": {"type": "line", "color": "#8a8a8a", "strokeWidth": 0.6},
          "encoding": {"x": {"field": "sp", "type": "quantitative", "scale": {"domain": [-4, 104], "reverse": true, "nice": false, "zero": false}, "axis": {"values": [100,80,60,40,20,0], "title": "Specificity (%)", "domain": false, "tickSize": 4, "labelPadding": 2, "titlePadding": 5, "labelFontSize": 10.5, "titleFontSize": 10.5, "titleFontWeight": "normal", "labelOverlap": false}},
                       "y": {"field": "se", "type": "quantitative", "scale": {"domain": [-4, 104], "nice": false, "zero": false}, "axis": {"values": [0,20,40,60,80,100], "title": "Sensitivity (%)", "domain": false, "tickSize": 4, "labelPadding": 2, "titlePadding": 5, "labelFontSize": 10.5, "titleFontSize": 10.5, "titleFontWeight": "normal", "labelOverlap": false}}}},
         {"data": {"name": "roc5"}, "mark": {"type": "line", "color": "#1f2d86", "strokeWidth": 1.3},
          "encoding": {"x": {"field": "sp", "type": "quantitative", "scale": {"domain": [-4, 104], "reverse": true, "nice": false, "zero": false}, "axis": {"values": [100,80,60,40,20,0], "title": "Specificity (%)", "domain": false, "tickSize": 4, "labelPadding": 2, "titlePadding": 5, "labelFontSize": 10.5, "titleFontSize": 10.5, "titleFontWeight": "normal", "labelOverlap": false}},
                       "y": {"field": "se", "type": "quantitative", "scale": {"domain": [-4, 104], "nice": false, "zero": false}, "axis": {"values": [0,20,40,60,80,100], "title": "Sensitivity (%)", "domain": false, "tickSize": 4, "labelPadding": 2, "titlePadding": 5, "labelFontSize": 10.5, "titleFontSize": 10.5, "titleFontWeight": "normal", "labelOverlap": false}},
                       "order": {"field": "se", "type": "quantitative"}}},
         {"data": {"values": [{"l": "AUC: 99.5%"}]}, "mark": {"type": "text", "align": "left", "baseline": "middle", "fontSize": 8, "color": "#3b5bb8"},
          "encoding": {"x": {"datum": 50, "type": "quantitative", "scale": {"domain": [-4, 104], "reverse": true, "nice": false, "zero": false}, "axis": {"values": [100,80,60,40,20,0], "title": "Specificity (%)", "domain": false, "tickSize": 4, "labelPadding": 2, "titlePadding": 5, "labelFontSize": 10.5, "titleFontSize": 10.5, "titleFontWeight": "normal", "labelOverlap": false}},
                       "y": {"datum": 46, "type": "quantitative", "scale": {"domain": [-4, 104], "nice": false, "zero": false}, "axis": {"values": [0,20,40,60,80,100], "title": "Sensitivity (%)", "domain": false, "tickSize": 4, "labelPadding": 2, "titlePadding": 5, "labelFontSize": 10.5, "titleFontSize": 10.5, "titleFontWeight": "normal", "labelOverlap": false}},
                       "text": {"field": "l"}}}
       ]},
      {"title": "ROC of IL6", "width": 108, "height": 108, "view": {"stroke": "#000", "strokeWidth": 1},
       "layer": [
         {"data": {"name": "diag"}, "mark": {"type": "line", "color": "#8a8a8a", "strokeWidth": 0.6},
          "encoding": {"x": {"field": "sp", "type": "quantitative", "scale": {"domain": [-4, 104], "reverse": true, "nice": false, "zero": false}, "axis": {"values": [100,80,60,40,20,0], "title": "Specificity (%)", "domain": false, "tickSize": 4, "labelPadding": 2, "titlePadding": 5, "labelFontSize": 10.5, "titleFontSize": 10.5, "titleFontWeight": "normal", "labelOverlap": false}},
                       "y": {"field": "se", "type": "quantitative", "scale": {"domain": [-4, 104], "nice": false, "zero": false}, "axis": {"values": [0,20,40,60,80,100], "title": "Sensitivity (%)", "domain": false, "tickSize": 4, "labelPadding": 2, "titlePadding": 5, "labelFontSize": 10.5, "titleFontSize": 10.5, "titleFontWeight": "normal", "labelOverlap": false}}}},
         {"data": {"name": "roc6"}, "mark": {"type": "line", "color": "#1f2d86", "strokeWidth": 1.3},
          "encoding": {"x": {"field": "sp", "type": "quantitative", "scale": {"domain": [-4, 104], "reverse": true, "nice": false, "zero": false}, "axis": {"values": [100,80,60,40,20,0], "title": "Specificity (%)", "domain": false, "tickSize": 4, "labelPadding": 2, "titlePadding": 5, "labelFontSize": 10.5, "titleFontSize": 10.5, "titleFontWeight": "normal", "labelOverlap": false}},
                       "y": {"field": "se", "type": "quantitative", "scale": {"domain": [-4, 104], "nice": false, "zero": false}, "axis": {"values": [0,20,40,60,80,100], "title": "Sensitivity (%)", "domain": false, "tickSize": 4, "labelPadding": 2, "titlePadding": 5, "labelFontSize": 10.5, "titleFontSize": 10.5, "titleFontWeight": "normal", "labelOverlap": false}},
                       "order": {"field": "se", "type": "quantitative"}}},
         {"data": {"values": [{"l": "AUC: 81.2%"}]}, "mark": {"type": "text", "align": "left", "baseline": "middle", "fontSize": 8, "color": "#3b5bb8"},
          "encoding": {"x": {"datum": 50, "type": "quantitative", "scale": {"domain": [-4, 104], "reverse": true, "nice": false, "zero": false}, "axis": {"values": [100,80,60,40,20,0], "title": "Specificity (%)", "domain": false, "tickSize": 4, "labelPadding": 2, "titlePadding": 5, "labelFontSize": 10.5, "titleFontSize": 10.5, "titleFontWeight": "normal", "labelOverlap": false}},
                       "y": {"datum": 46, "type": "quantitative", "scale": {"domain": [-4, 104], "nice": false, "zero": false}, "axis": {"values": [0,20,40,60,80,100], "title": "Sensitivity (%)", "domain": false, "tickSize": 4, "labelPadding": 2, "titlePadding": 5, "labelFontSize": 10.5, "titleFontSize": 10.5, "titleFontWeight": "normal", "labelOverlap": false}},
                       "text": {"field": "l"}}}
       ]},
      {"title": "ROC of FGF2", "width": 108, "height": 108, "view": {"stroke": "#000", "strokeWidth": 1},
       "layer": [
         {"data": {"name": "diag"}, "mark": {"type": "line", "color": "#8a8a8a", "strokeWidth": 0.6},
          "encoding": {"x": {"field": "sp", "type": "quantitative", "scale": {"domain": [-4, 104], "reverse": true, "nice": false, "zero": false}, "axis": {"values": [100,80,60,40,20,0], "title": "Specificity (%)", "domain": false, "tickSize": 4, "labelPadding": 2, "titlePadding": 5, "labelFontSize": 10.5, "titleFontSize": 10.5, "titleFontWeight": "normal", "labelOverlap": false}},
                       "y": {"field": "se", "type": "quantitative", "scale": {"domain": [-4, 104], "nice": false, "zero": false}, "axis": {"values": [0,20,40,60,80,100], "title": "Sensitivity (%)", "domain": false, "tickSize": 4, "labelPadding": 2, "titlePadding": 5, "labelFontSize": 10.5, "titleFontSize": 10.5, "titleFontWeight": "normal", "labelOverlap": false}}}},
         {"data": {"name": "roc7"}, "mark": {"type": "line", "color": "#1f2d86", "strokeWidth": 1.3},
          "encoding": {"x": {"field": "sp", "type": "quantitative", "scale": {"domain": [-4, 104], "reverse": true, "nice": false, "zero": false}, "axis": {"values": [100,80,60,40,20,0], "title": "Specificity (%)", "domain": false, "tickSize": 4, "labelPadding": 2, "titlePadding": 5, "labelFontSize": 10.5, "titleFontSize": 10.5, "titleFontWeight": "normal", "labelOverlap": false}},
                       "y": {"field": "se", "type": "quantitative", "scale": {"domain": [-4, 104], "nice": false, "zero": false}, "axis": {"values": [0,20,40,60,80,100], "title": "Sensitivity (%)", "domain": false, "tickSize": 4, "labelPadding": 2, "titlePadding": 5, "labelFontSize": 10.5, "titleFontSize": 10.5, "titleFontWeight": "normal", "labelOverlap": false}},
                       "order": {"field": "se", "type": "quantitative"}}},
         {"data": {"values": [{"l": "AUC: 90.0%"}]}, "mark": {"type": "text", "align": "left", "baseline": "middle", "fontSize": 8, "color": "#3b5bb8"},
          "encoding": {"x": {"datum": 50, "type": "quantitative", "scale": {"domain": [-4, 104], "reverse": true, "nice": false, "zero": false}, "axis": {"values": [100,80,60,40,20,0], "title": "Specificity (%)", "domain": false, "tickSize": 4, "labelPadding": 2, "titlePadding": 5, "labelFontSize": 10.5, "titleFontSize": 10.5, "titleFontWeight": "normal", "labelOverlap": false}},
                       "y": {"datum": 45, "type": "quantitative", "scale": {"domain": [-4, 104], "nice": false, "zero": false}, "axis": {"values": [0,20,40,60,80,100], "title": "Sensitivity (%)", "domain": false, "tickSize": 4, "labelPadding": 2, "titlePadding": 5, "labelFontSize": 10.5, "titleFontSize": 10.5, "titleFontWeight": "normal", "labelOverlap": false}},
                       "text": {"field": "l"}}}
       ]},
      {"title": "ROC of GSVA index", "width": 108, "height": 108, "view": {"stroke": "#000", "strokeWidth": 1},
       "layer": [
         {"data": {"name": "diag"}, "mark": {"type": "line", "color": "#8a8a8a", "strokeWidth": 0.6},
          "encoding": {"x": {"field": "sp", "type": "quantitative", "scale": {"domain": [-4, 104], "reverse": true, "nice": false, "zero": false}, "axis": {"values": [100,80,60,40,20,0], "title": "Specificity (%)", "domain": false, "tickSize": 4, "labelPadding": 2, "titlePadding": 5, "labelFontSize": 10.5, "titleFontSize": 10.5, "titleFontWeight": "normal", "labelOverlap": false}},
                       "y": {"field": "se", "type": "quantitative", "scale": {"domain": [-4, 104], "nice": false, "zero": false}, "axis": {"values": [0,20,40,60,80,100], "title": "Sensitivity (%)", "domain": false, "tickSize": 4, "labelPadding": 2, "titlePadding": 5, "labelFontSize": 10.5, "titleFontSize": 10.5, "titleFontWeight": "normal", "labelOverlap": false}}}},
         {"data": {"name": "roc8"}, "mark": {"type": "line", "color": "#1f2d86", "strokeWidth": 1.3},
          "encoding": {"x": {"field": "sp", "type": "quantitative", "scale": {"domain": [-4, 104], "reverse": true, "nice": false, "zero": false}, "axis": {"values": [100,80,60,40,20,0], "title": "Specificity (%)", "domain": false, "tickSize": 4, "labelPadding": 2, "titlePadding": 5, "labelFontSize": 10.5, "titleFontSize": 10.5, "titleFontWeight": "normal", "labelOverlap": false}},
                       "y": {"field": "se", "type": "quantitative", "scale": {"domain": [-4, 104], "nice": false, "zero": false}, "axis": {"values": [0,20,40,60,80,100], "title": "Sensitivity (%)", "domain": false, "tickSize": 4, "labelPadding": 2, "titlePadding": 5, "labelFontSize": 10.5, "titleFontSize": 10.5, "titleFontWeight": "normal", "labelOverlap": false}},
                       "order": {"field": "se", "type": "quantitative"}}},
         {"data": {"values": [{"l": "AUC: 86.1%"}]}, "mark": {"type": "text", "align": "left", "baseline": "middle", "fontSize": 8, "color": "#3b5bb8"},
          "encoding": {"x": {"datum": 50, "type": "quantitative", "scale": {"domain": [-4, 104], "reverse": true, "nice": false, "zero": false}, "axis": {"values": [100,80,60,40,20,0], "title": "Specificity (%)", "domain": false, "tickSize": 4, "labelPadding": 2, "titlePadding": 5, "labelFontSize": 10.5, "titleFontSize": 10.5, "titleFontWeight": "normal", "labelOverlap": false}},
                       "y": {"datum": 44, "type": "quantitative", "scale": {"domain": [-4, 104], "nice": false, "zero": false}, "axis": {"values": [0,20,40,60,80,100], "title": "Sensitivity (%)", "domain": false, "tickSize": 4, "labelPadding": 2, "titlePadding": 5, "labelFontSize": 10.5, "titleFontSize": 10.5, "titleFontWeight": "normal", "labelOverlap": false}},
                       "text": {"field": "l"}}}
       ]}
    ]}
  ]},
  {"width": 100, "height": 35, "data": {"values": [{"l": "(a)"}]}, "mark": {"type": "text", "fontSize": 10.5, "color": "#000", "dy": 5}, "encoding": {"text": {"field": "l"}}},
  {"spacing": 7, "resolve": {"scale": {"color": "independent"}}, "vconcat": [
    {"spacing": 5, "resolve": {"scale": {"color": "independent"}}, "hconcat": [
      {"title": {"text": "EDN1", "fontSize": 8.5, "offset": 4}, "width": 124, "height": 119, "data": {"name": "km1"},
       "layer": [
         {"transform": [{"filter": "!datum.c"}], "mark": {"type": "line", "interpolate": "step-after", "strokeWidth": 0.9},
          "encoding": {"x": {"field": "t", "type": "quantitative", "scale": {"domain": [-400, 8400], "nice": false, "zero": false}, "axis": {"values": [0,2000,4000,6000,8000], "format": "d", "title": "Overall survival (days)", "tickSize": 3, "labelPadding": 2, "titlePadding": 15, "labelFontSize": 8.5, "titleFontSize": 8.5, "titleFontWeight": "normal", "labelOverlap": false}},
                       "y": {"field": "s", "type": "quantitative", "scale": {"domain": [-0.05, 1.05], "nice": false, "zero": false}, "axis": {"values": [0,0.25,0.5,0.75,1], "format": ".2f", "title": "Survival probability", "tickSize": 3, "labelPadding": 2, "titlePadding": 7, "labelFontSize": 8.5, "titleFontSize": 8.5, "titleFontWeight": "normal", "titleColor": "#333", "labelOverlap": false}},
                       "color": {"field": "g", "type": "nominal", "scale": {"domain": ["L","H"], "range": ["#2c3a8c","#e8161c"]}, "legend": null}}},
         {"transform": [{"filter": "datum.c"}], "mark": {"type": "point", "shape": "M0,-1V1", "size": 16, "strokeWidth": 1, "filled": false, "opacity": 1},
          "encoding": {"x": {"field": "t", "type": "quantitative", "scale": {"domain": [-400, 8400], "nice": false, "zero": false}, "axis": {"values": [0,2000,4000,6000,8000], "format": "d", "title": "Overall survival (days)", "tickSize": 3, "labelPadding": 2, "titlePadding": 15, "labelFontSize": 8.5, "titleFontSize": 8.5, "titleFontWeight": "normal", "labelOverlap": false}},
                       "y": {"field": "s", "type": "quantitative", "scale": {"domain": [-0.05, 1.05], "nice": false, "zero": false}, "axis": {"values": [0,0.25,0.5,0.75,1], "format": ".2f", "title": "Survival probability", "tickSize": 3, "labelPadding": 2, "titlePadding": 7, "labelFontSize": 8.5, "titleFontSize": 8.5, "titleFontWeight": "normal", "titleColor": "#333", "labelOverlap": false}},
                       "color": {"field": "g", "type": "nominal", "scale": {"domain": ["L","H"], "range": ["#2c3a8c","#e8161c"]}, "legend": null}}},
         {"data": {"values": [{"a": "HR = 1.01 (0.753-1.35)\nlogrank P value = 0.964"}]}, "mark": {"type": "text", "align": "left", "baseline": "top", "lineBreak": "\n", "lineHeight": 9, "fontSize": 7.5, "color": "#000"},
          "encoding": {"x": {"datum": 2780, "type": "quantitative", "scale": {"domain": [-400, 8400], "nice": false, "zero": false}, "axis": {"values": [0,2000,4000,6000,8000], "format": "d", "title": "Overall survival (days)", "tickSize": 3, "labelPadding": 2, "titlePadding": 15, "labelFontSize": 8.5, "titleFontSize": 8.5, "titleFontWeight": "normal", "labelOverlap": false}},
                       "y": {"datum": 0.87, "type": "quantitative", "scale": {"domain": [-0.05, 1.05], "nice": false, "zero": false}, "axis": {"values": [0,0.25,0.5,0.75,1], "format": ".2f", "title": "Survival probability", "tickSize": 3, "labelPadding": 2, "titlePadding": 7, "labelFontSize": 8.5, "titleFontSize": 8.5, "titleFontWeight": "normal", "titleColor": "#333", "labelOverlap": false}},
                       "text": {"field": "a"}}}
       ]},
      {"title": {"text": "COL1A1", "fontSize": 8.5, "offset": 4}, "width": 124, "height": 119, "data": {"name": "km2"},
       "layer": [
         {"transform": [{"filter": "!datum.c"}], "mark": {"type": "line", "interpolate": "step-after", "strokeWidth": 0.9},
          "encoding": {"x": {"field": "t", "type": "quantitative", "scale": {"domain": [-400, 8400], "nice": false, "zero": false}, "axis": {"values": [0,2000,4000,6000,8000], "format": "d", "title": "Overall survival (days)", "tickSize": 3, "labelPadding": 2, "titlePadding": 15, "labelFontSize": 8.5, "titleFontSize": 8.5, "titleFontWeight": "normal", "labelOverlap": false}},
                       "y": {"field": "s", "type": "quantitative", "scale": {"domain": [-0.05, 1.05], "nice": false, "zero": false}, "axis": {"values": [0,0.25,0.5,0.75,1], "format": ".2f", "title": "Survival probability", "tickSize": 3, "labelPadding": 2, "titlePadding": 7, "labelFontSize": 8.5, "titleFontSize": 8.5, "titleFontWeight": "normal", "titleColor": "#333", "labelOverlap": false}},
                       "color": {"field": "g", "type": "nominal", "scale": {"domain": ["L","H"], "range": ["#2c3a8c","#e8161c"]}, "legend": null}}},
         {"transform": [{"filter": "datum.c"}], "mark": {"type": "point", "shape": "M0,-1V1", "size": 16, "strokeWidth": 1, "filled": false, "opacity": 1},
          "encoding": {"x": {"field": "t", "type": "quantitative", "scale": {"domain": [-400, 8400], "nice": false, "zero": false}, "axis": {"values": [0,2000,4000,6000,8000], "format": "d", "title": "Overall survival (days)", "tickSize": 3, "labelPadding": 2, "titlePadding": 15, "labelFontSize": 8.5, "titleFontSize": 8.5, "titleFontWeight": "normal", "labelOverlap": false}},
                       "y": {"field": "s", "type": "quantitative", "scale": {"domain": [-0.05, 1.05], "nice": false, "zero": false}, "axis": {"values": [0,0.25,0.5,0.75,1], "format": ".2f", "title": "Survival probability", "tickSize": 3, "labelPadding": 2, "titlePadding": 7, "labelFontSize": 8.5, "titleFontSize": 8.5, "titleFontWeight": "normal", "titleColor": "#333", "labelOverlap": false}},
                       "color": {"field": "g", "type": "nominal", "scale": {"domain": ["L","H"], "range": ["#2c3a8c","#e8161c"]}, "legend": null}}},
         {"data": {"values": [{"a": "HR = 1.37 (1.03-1.83)\nlogrank P value = 0.0316"}]}, "mark": {"type": "text", "align": "left", "baseline": "top", "lineBreak": "\n", "lineHeight": 9, "fontSize": 7.5, "color": "#000"},
          "encoding": {"x": {"datum": 2780, "type": "quantitative", "scale": {"domain": [-400, 8400], "nice": false, "zero": false}, "axis": {"values": [0,2000,4000,6000,8000], "format": "d", "title": "Overall survival (days)", "tickSize": 3, "labelPadding": 2, "titlePadding": 15, "labelFontSize": 8.5, "titleFontSize": 8.5, "titleFontWeight": "normal", "labelOverlap": false}},
                       "y": {"datum": 0.87, "type": "quantitative", "scale": {"domain": [-0.05, 1.05], "nice": false, "zero": false}, "axis": {"values": [0,0.25,0.5,0.75,1], "format": ".2f", "title": "Survival probability", "tickSize": 3, "labelPadding": 2, "titlePadding": 7, "labelFontSize": 8.5, "titleFontSize": 8.5, "titleFontWeight": "normal", "titleColor": "#333", "labelOverlap": false}},
                       "text": {"field": "a"}}}
       ]},
      {"title": {"text": "CDH5", "fontSize": 8.5, "offset": 4}, "width": 124, "height": 119, "data": {"name": "km3"},
       "layer": [
         {"transform": [{"filter": "!datum.c"}], "mark": {"type": "line", "interpolate": "step-after", "strokeWidth": 0.9},
          "encoding": {"x": {"field": "t", "type": "quantitative", "scale": {"domain": [-400, 8400], "nice": false, "zero": false}, "axis": {"values": [0,2000,4000,6000,8000], "format": "d", "title": "Overall survival (days)", "tickSize": 3, "labelPadding": 2, "titlePadding": 15, "labelFontSize": 8.5, "titleFontSize": 8.5, "titleFontWeight": "normal", "labelOverlap": false}},
                       "y": {"field": "s", "type": "quantitative", "scale": {"domain": [-0.05, 1.05], "nice": false, "zero": false}, "axis": {"values": [0,0.25,0.5,0.75,1], "format": ".2f", "title": "Survival probability", "tickSize": 3, "labelPadding": 2, "titlePadding": 7, "labelFontSize": 8.5, "titleFontSize": 8.5, "titleFontWeight": "normal", "titleColor": "#333", "labelOverlap": false}},
                       "color": {"field": "g", "type": "nominal", "scale": {"domain": ["L","H"], "range": ["#2c3a8c","#e8161c"]}, "legend": null}}},
         {"transform": [{"filter": "datum.c"}], "mark": {"type": "point", "shape": "M0,-1V1", "size": 16, "strokeWidth": 1, "filled": false, "opacity": 1},
          "encoding": {"x": {"field": "t", "type": "quantitative", "scale": {"domain": [-400, 8400], "nice": false, "zero": false}, "axis": {"values": [0,2000,4000,6000,8000], "format": "d", "title": "Overall survival (days)", "tickSize": 3, "labelPadding": 2, "titlePadding": 15, "labelFontSize": 8.5, "titleFontSize": 8.5, "titleFontWeight": "normal", "labelOverlap": false}},
                       "y": {"field": "s", "type": "quantitative", "scale": {"domain": [-0.05, 1.05], "nice": false, "zero": false}, "axis": {"values": [0,0.25,0.5,0.75,1], "format": ".2f", "title": "Survival probability", "tickSize": 3, "labelPadding": 2, "titlePadding": 7, "labelFontSize": 8.5, "titleFontSize": 8.5, "titleFontWeight": "normal", "titleColor": "#333", "labelOverlap": false}},
                       "color": {"field": "g", "type": "nominal", "scale": {"domain": ["L","H"], "range": ["#2c3a8c","#e8161c"]}, "legend": null}}},
         {"data": {"values": [{"a": "HR =0.937 (0.702-1.25)\nlogrank P value = 0.6624"}]}, "mark": {"type": "text", "align": "left", "baseline": "top", "lineBreak": "\n", "lineHeight": 9, "fontSize": 7.5, "color": "#000"},
          "encoding": {"x": {"datum": 2780, "type": "quantitative", "scale": {"domain": [-400, 8400], "nice": false, "zero": false}, "axis": {"values": [0,2000,4000,6000,8000], "format": "d", "title": "Overall survival (days)", "tickSize": 3, "labelPadding": 2, "titlePadding": 15, "labelFontSize": 8.5, "titleFontSize": 8.5, "titleFontWeight": "normal", "labelOverlap": false}},
                       "y": {"datum": 0.87, "type": "quantitative", "scale": {"domain": [-0.05, 1.05], "nice": false, "zero": false}, "axis": {"values": [0,0.25,0.5,0.75,1], "format": ".2f", "title": "Survival probability", "tickSize": 3, "labelPadding": 2, "titlePadding": 7, "labelFontSize": 8.5, "titleFontSize": 8.5, "titleFontWeight": "normal", "titleColor": "#333", "labelOverlap": false}},
                       "text": {"field": "a"}}}
       ]},
      {"title": {"text": "VWF", "fontSize": 8.5, "offset": 4}, "width": 124, "height": 119, "data": {"name": "km4"},
       "layer": [
         {"transform": [{"filter": "!datum.c"}], "mark": {"type": "line", "interpolate": "step-after", "strokeWidth": 0.9},
          "encoding": {"x": {"field": "t", "type": "quantitative", "scale": {"domain": [-400, 8400], "nice": false, "zero": false}, "axis": {"values": [0,2000,4000,6000,8000], "format": "d", "title": "Overall survival (days)", "tickSize": 3, "labelPadding": 2, "titlePadding": 15, "labelFontSize": 8.5, "titleFontSize": 8.5, "titleFontWeight": "normal", "labelOverlap": false}},
                       "y": {"field": "s", "type": "quantitative", "scale": {"domain": [-0.05, 1.05], "nice": false, "zero": false}, "axis": {"values": [0,0.25,0.5,0.75,1], "format": ".2f", "title": "Survival probability", "tickSize": 3, "labelPadding": 2, "titlePadding": 7, "labelFontSize": 8.5, "titleFontSize": 8.5, "titleFontWeight": "normal", "titleColor": "#333", "labelOverlap": false}},
                       "color": {"field": "g", "type": "nominal", "scale": {"domain": ["L","H"], "range": ["#2c3a8c","#e8161c"]}, "legend": null}}},
         {"transform": [{"filter": "datum.c"}], "mark": {"type": "point", "shape": "M0,-1V1", "size": 16, "strokeWidth": 1, "filled": false, "opacity": 1},
          "encoding": {"x": {"field": "t", "type": "quantitative", "scale": {"domain": [-400, 8400], "nice": false, "zero": false}, "axis": {"values": [0,2000,4000,6000,8000], "format": "d", "title": "Overall survival (days)", "tickSize": 3, "labelPadding": 2, "titlePadding": 15, "labelFontSize": 8.5, "titleFontSize": 8.5, "titleFontWeight": "normal", "labelOverlap": false}},
                       "y": {"field": "s", "type": "quantitative", "scale": {"domain": [-0.05, 1.05], "nice": false, "zero": false}, "axis": {"values": [0,0.25,0.5,0.75,1], "format": ".2f", "title": "Survival probability", "tickSize": 3, "labelPadding": 2, "titlePadding": 7, "labelFontSize": 8.5, "titleFontSize": 8.5, "titleFontWeight": "normal", "titleColor": "#333", "labelOverlap": false}},
                       "color": {"field": "g", "type": "nominal", "scale": {"domain": ["L","H"], "range": ["#2c3a8c","#e8161c"]}, "legend": null}}},
         {"data": {"values": [{"a": "HR = 0.76 (0.569-1.02)\nlogrank P value = 0.043"}]}, "mark": {"type": "text", "align": "left", "baseline": "top", "lineBreak": "\n", "lineHeight": 9, "fontSize": 7.5, "color": "#000"},
          "encoding": {"x": {"datum": 2780, "type": "quantitative", "scale": {"domain": [-400, 8400], "nice": false, "zero": false}, "axis": {"values": [0,2000,4000,6000,8000], "format": "d", "title": "Overall survival (days)", "tickSize": 3, "labelPadding": 2, "titlePadding": 15, "labelFontSize": 8.5, "titleFontSize": 8.5, "titleFontWeight": "normal", "labelOverlap": false}},
                       "y": {"datum": 0.87, "type": "quantitative", "scale": {"domain": [-0.05, 1.05], "nice": false, "zero": false}, "axis": {"values": [0,0.25,0.5,0.75,1], "format": ".2f", "title": "Survival probability", "tickSize": 3, "labelPadding": 2, "titlePadding": 7, "labelFontSize": 8.5, "titleFontSize": 8.5, "titleFontWeight": "normal", "titleColor": "#333", "labelOverlap": false}},
                       "text": {"field": "a"}}}
       ]}
    ]},
    {"spacing": 5, "resolve": {"scale": {"color": "independent"}}, "hconcat": [
      {"title": {"text": "EDN1", "fontSize": 8.5, "offset": 4}, "width": 124, "height": 119, "data": {"name": "km5"},
       "layer": [
         {"transform": [{"filter": "!datum.c"}], "mark": {"type": "line", "interpolate": "step-after", "strokeWidth": 0.9},
          "encoding": {"x": {"field": "t", "type": "quantitative", "scale": {"domain": [-400, 8400], "nice": false, "zero": false}, "axis": {"values": [0,2000,4000,6000,8000], "format": "d", "title": "Overall survival (days)", "tickSize": 3, "labelPadding": 2, "titlePadding": 5, "labelFontSize": 8.5, "titleFontSize": 8.5, "titleFontWeight": "normal", "labelOverlap": false}},
                       "y": {"field": "s", "type": "quantitative", "scale": {"domain": [-0.05, 1.05], "nice": false, "zero": false}, "axis": {"values": [0,0.25,0.5,0.75,1], "format": ".2f", "title": "Survival probability", "tickSize": 3, "labelPadding": 2, "titlePadding": 7, "labelFontSize": 8.5, "titleFontSize": 8.5, "titleFontWeight": "normal", "titleColor": "#333", "labelOverlap": false}},
                       "color": {"field": "g", "type": "nominal", "scale": {"domain": ["L","H"], "range": ["#2c3a8c","#e8161c"]}, "legend": {"title": "Group", "orient": "none", "legendX": 0, "legendY": 154, "symbolType": "M-1,0H1M0,-0.45V0.45", "symbolSize": 144, "symbolStrokeWidth": 1, "labelExpr": "datum.label == 'L' ? 'Low exp (N = 257)' : 'High exp (N = 256)'", "labelFontSize": 8.5, "titleFontSize": 8.5, "titleFontWeight": "normal", "labelFont": "Liberation Serif", "titleFont": "Liberation Serif", "rowPadding": -1, "titlePadding": 3, "padding": 0, "labelOffset": 7}}}},
         {"transform": [{"filter": "datum.c"}], "mark": {"type": "point", "shape": "M0,-1V1", "size": 16, "strokeWidth": 1, "filled": false, "opacity": 1},
          "encoding": {"x": {"field": "t", "type": "quantitative", "scale": {"domain": [-400, 8400], "nice": false, "zero": false}, "axis": {"values": [0,2000,4000,6000,8000], "format": "d", "title": "Overall survival (days)", "tickSize": 3, "labelPadding": 2, "titlePadding": 5, "labelFontSize": 8.5, "titleFontSize": 8.5, "titleFontWeight": "normal", "labelOverlap": false}},
                       "y": {"field": "s", "type": "quantitative", "scale": {"domain": [-0.05, 1.05], "nice": false, "zero": false}, "axis": {"values": [0,0.25,0.5,0.75,1], "format": ".2f", "title": "Survival probability", "tickSize": 3, "labelPadding": 2, "titlePadding": 7, "labelFontSize": 8.5, "titleFontSize": 8.5, "titleFontWeight": "normal", "titleColor": "#333", "labelOverlap": false}},
                       "color": {"field": "g", "type": "nominal", "scale": {"domain": ["L","H"], "range": ["#2c3a8c","#e8161c"]}, "legend": {"title": "Group", "orient": "none", "legendX": 0, "legendY": 154, "symbolType": "M-1,0H1M0,-0.45V0.45", "symbolSize": 144, "symbolStrokeWidth": 1, "labelExpr": "datum.label == 'L' ? 'Low exp (N = 257)' : 'High exp (N = 256)'", "labelFontSize": 8.5, "titleFontSize": 8.5, "titleFontWeight": "normal", "labelFont": "Liberation Serif", "titleFont": "Liberation Serif", "rowPadding": -1, "titlePadding": 3, "padding": 0, "labelOffset": 7}}}},
         {"data": {"values": [{"a": "HR = 0.742 (0.556-0.992)\nlogrank P value = 0.0448"}]}, "mark": {"type": "text", "align": "left", "baseline": "top", "lineBreak": "\n", "lineHeight": 9, "fontSize": 7.5, "color": "#000"},
          "encoding": {"x": {"datum": 2780, "type": "quantitative", "scale": {"domain": [-400, 8400], "nice": false, "zero": false}, "axis": {"values": [0,2000,4000,6000,8000], "format": "d", "title": "Overall survival (days)", "tickSize": 3, "labelPadding": 2, "titlePadding": 5, "labelFontSize": 8.5, "titleFontSize": 8.5, "titleFontWeight": "normal", "labelOverlap": false}},
                       "y": {"datum": 0.87, "type": "quantitative", "scale": {"domain": [-0.05, 1.05], "nice": false, "zero": false}, "axis": {"values": [0,0.25,0.5,0.75,1], "format": ".2f", "title": "Survival probability", "tickSize": 3, "labelPadding": 2, "titlePadding": 7, "labelFontSize": 8.5, "titleFontSize": 8.5, "titleFontWeight": "normal", "titleColor": "#333", "labelOverlap": false}},
                       "text": {"field": "a"}}}
       ]},
      {"title": {"text": "EDN1", "fontSize": 8.5, "offset": 4}, "width": 124, "height": 119, "data": {"name": "km6"},
       "layer": [
         {"transform": [{"filter": "!datum.c"}], "mark": {"type": "line", "interpolate": "step-after", "strokeWidth": 0.9},
          "encoding": {"x": {"field": "t", "type": "quantitative", "scale": {"domain": [-400, 8400], "nice": false, "zero": false}, "axis": {"values": [0,2000,4000,6000,8000], "format": "d", "title": "Overall survival (days)", "tickSize": 3, "labelPadding": 2, "titlePadding": 5, "labelFontSize": 8.5, "titleFontSize": 8.5, "titleFontWeight": "normal", "labelOverlap": false}},
                       "y": {"field": "s", "type": "quantitative", "scale": {"domain": [-0.05, 1.05], "nice": false, "zero": false}, "axis": {"values": [0,0.25,0.5,0.75,1], "format": ".2f", "title": "Survival probability", "tickSize": 3, "labelPadding": 2, "titlePadding": 7, "labelFontSize": 8.5, "titleFontSize": 8.5, "titleFontWeight": "normal", "titleColor": "#333", "labelOverlap": false}},
                       "color": {"field": "g", "type": "nominal", "scale": {"domain": ["L","H"], "range": ["#2c3a8c","#e8161c"]}, "legend": null}}},
         {"transform": [{"filter": "datum.c"}], "mark": {"type": "point", "shape": "M0,-1V1", "size": 16, "strokeWidth": 1, "filled": false, "opacity": 1},
          "encoding": {"x": {"field": "t", "type": "quantitative", "scale": {"domain": [-400, 8400], "nice": false, "zero": false}, "axis": {"values": [0,2000,4000,6000,8000], "format": "d", "title": "Overall survival (days)", "tickSize": 3, "labelPadding": 2, "titlePadding": 5, "labelFontSize": 8.5, "titleFontSize": 8.5, "titleFontWeight": "normal", "labelOverlap": false}},
                       "y": {"field": "s", "type": "quantitative", "scale": {"domain": [-0.05, 1.05], "nice": false, "zero": false}, "axis": {"values": [0,0.25,0.5,0.75,1], "format": ".2f", "title": "Survival probability", "tickSize": 3, "labelPadding": 2, "titlePadding": 7, "labelFontSize": 8.5, "titleFontSize": 8.5, "titleFontWeight": "normal", "titleColor": "#333", "labelOverlap": false}},
                       "color": {"field": "g", "type": "nominal", "scale": {"domain": ["L","H"], "range": ["#2c3a8c","#e8161c"]}, "legend": null}}},
         {"data": {"values": [{"a": "HR = 1.14 (0.854-1.53)\nlogrank P value = 0.37"}]}, "mark": {"type": "text", "align": "left", "baseline": "top", "lineBreak": "\n", "lineHeight": 9, "fontSize": 7.5, "color": "#000"},
          "encoding": {"x": {"datum": 2780, "type": "quantitative", "scale": {"domain": [-400, 8400], "nice": false, "zero": false}, "axis": {"values": [0,2000,4000,6000,8000], "format": "d", "title": "Overall survival (days)", "tickSize": 3, "labelPadding": 2, "titlePadding": 5, "labelFontSize": 8.5, "titleFontSize": 8.5, "titleFontWeight": "normal", "labelOverlap": false}},
                       "y": {"datum": 0.87, "type": "quantitative", "scale": {"domain": [-0.05, 1.05], "nice": false, "zero": false}, "axis": {"values": [0,0.25,0.5,0.75,1], "format": ".2f", "title": "Survival probability", "tickSize": 3, "labelPadding": 2, "titlePadding": 7, "labelFontSize": 8.5, "titleFontSize": 8.5, "titleFontWeight": "normal", "titleColor": "#333", "labelOverlap": false}},
                       "text": {"field": "a"}}}
       ]},
      {"title": {"text": "EDN1", "fontSize": 8.5, "offset": 4}, "width": 124, "height": 119, "data": {"name": "km7"},
       "layer": [
         {"transform": [{"filter": "!datum.c"}], "mark": {"type": "line", "interpolate": "step-after", "strokeWidth": 0.9},
          "encoding": {"x": {"field": "t", "type": "quantitative", "scale": {"domain": [-400, 8400], "nice": false, "zero": false}, "axis": {"values": [0,2000,4000,6000,8000], "format": "d", "title": "Overall survival (days)", "tickSize": 3, "labelPadding": 2, "titlePadding": 5, "labelFontSize": 8.5, "titleFontSize": 8.5, "titleFontWeight": "normal", "labelOverlap": false}},
                       "y": {"field": "s", "type": "quantitative", "scale": {"domain": [-0.05, 1.05], "nice": false, "zero": false}, "axis": {"values": [0,0.25,0.5,0.75,1], "format": ".2f", "title": "Survival probability", "tickSize": 3, "labelPadding": 2, "titlePadding": 7, "labelFontSize": 8.5, "titleFontSize": 8.5, "titleFontWeight": "normal", "titleColor": "#333", "labelOverlap": false}},
                       "color": {"field": "g", "type": "nominal", "scale": {"domain": ["L","H"], "range": ["#2c3a8c","#e8161c"]}, "legend": null}}},
         {"transform": [{"filter": "datum.c"}], "mark": {"type": "point", "shape": "M0,-1V1", "size": 16, "strokeWidth": 1, "filled": false, "opacity": 1},
          "encoding": {"x": {"field": "t", "type": "quantitative", "scale": {"domain": [-400, 8400], "nice": false, "zero": false}, "axis": {"values": [0,2000,4000,6000,8000], "format": "d", "title": "Overall survival (days)", "tickSize": 3, "labelPadding": 2, "titlePadding": 5, "labelFontSize": 8.5, "titleFontSize": 8.5, "titleFontWeight": "normal", "labelOverlap": false}},
                       "y": {"field": "s", "type": "quantitative", "scale": {"domain": [-0.05, 1.05], "nice": false, "zero": false}, "axis": {"values": [0,0.25,0.5,0.75,1], "format": ".2f", "title": "Survival probability", "tickSize": 3, "labelPadding": 2, "titlePadding": 7, "labelFontSize": 8.5, "titleFontSize": 8.5, "titleFontWeight": "normal", "titleColor": "#333", "labelOverlap": false}},
                       "color": {"field": "g", "type": "nominal", "scale": {"domain": ["L","H"], "range": ["#2c3a8c","#e8161c"]}, "legend": null}}},
         {"data": {"values": [{"a": "HR = 1.08 (0.81-1.45)\nlogrank P value = 0.588"}]}, "mark": {"type": "text", "align": "left", "baseline": "top", "lineBreak": "\n", "lineHeight": 9, "fontSize": 7.5, "color": "#000"},
          "encoding": {"x": {"datum": 2780, "type": "quantitative", "scale": {"domain": [-400, 8400], "nice": false, "zero": false}, "axis": {"values": [0,2000,4000,6000,8000], "format": "d", "title": "Overall survival (days)", "tickSize": 3, "labelPadding": 2, "titlePadding": 5, "labelFontSize": 8.5, "titleFontSize": 8.5, "titleFontWeight": "normal", "labelOverlap": false}},
                       "y": {"datum": 0.87, "type": "quantitative", "scale": {"domain": [-0.05, 1.05], "nice": false, "zero": false}, "axis": {"values": [0,0.25,0.5,0.75,1], "format": ".2f", "title": "Survival probability", "tickSize": 3, "labelPadding": 2, "titlePadding": 7, "labelFontSize": 8.5, "titleFontSize": 8.5, "titleFontWeight": "normal", "titleColor": "#333", "labelOverlap": false}},
                       "text": {"field": "a"}}}
       ]},
      {"title": {"text": "EDN1", "fontSize": 8.5, "offset": 4}, "width": 124, "height": 119, "data": {"name": "km8"},
       "layer": [
         {"transform": [{"filter": "!datum.c"}], "mark": {"type": "line", "interpolate": "step-after", "strokeWidth": 0.9},
          "encoding": {"x": {"field": "t", "type": "quantitative", "scale": {"domain": [-400, 8400], "nice": false, "zero": false}, "axis": {"values": [0,2000,4000,6000,8000], "format": "d", "title": "Overall survival (days)", "tickSize": 3, "labelPadding": 2, "titlePadding": 5, "labelFontSize": 8.5, "titleFontSize": 8.5, "titleFontWeight": "normal", "labelOverlap": false}},
                       "y": {"field": "s", "type": "quantitative", "scale": {"domain": [-0.05, 1.05], "nice": false, "zero": false}, "axis": {"values": [0,0.25,0.5,0.75,1], "format": ".2f", "title": "Survival probability", "tickSize": 3, "labelPadding": 2, "titlePadding": 7, "labelFontSize": 8.5, "titleFontSize": 8.5, "titleFontWeight": "normal", "titleColor": "#333", "labelOverlap": false}},
                       "color": {"field": "g", "type": "nominal", "scale": {"domain": ["L","H"], "range": ["#2c3a8c","#e8161c"]}, "legend": null}}},
         {"transform": [{"filter": "datum.c"}], "mark": {"type": "point", "shape": "M0,-1V1", "size": 16, "strokeWidth": 1, "filled": false, "opacity": 1},
          "encoding": {"x": {"field": "t", "type": "quantitative", "scale": {"domain": [-400, 8400], "nice": false, "zero": false}, "axis": {"values": [0,2000,4000,6000,8000], "format": "d", "title": "Overall survival (days)", "tickSize": 3, "labelPadding": 2, "titlePadding": 5, "labelFontSize": 8.5, "titleFontSize": 8.5, "titleFontWeight": "normal", "labelOverlap": false}},
                       "y": {"field": "s", "type": "quantitative", "scale": {"domain": [-0.05, 1.05], "nice": false, "zero": false}, "axis": {"values": [0,0.25,0.5,0.75,1], "format": ".2f", "title": "Survival probability", "tickSize": 3, "labelPadding": 2, "titlePadding": 7, "labelFontSize": 8.5, "titleFontSize": 8.5, "titleFontWeight": "normal", "titleColor": "#333", "labelOverlap": false}},
                       "color": {"field": "g", "type": "nominal", "scale": {"domain": ["L","H"], "range": ["#2c3a8c","#e8161c"]}, "legend": null}}},
         {"data": {"values": [{"a": "HR = 0.9 (0.673-1.2)\nlogrank P value = 0.478"}]}, "mark": {"type": "text", "align": "left", "baseline": "top", "lineBreak": "\n", "lineHeight": 9, "fontSize": 7.5, "color": "#000"},
          "encoding": {"x": {"datum": 2780, "type": "quantitative", "scale": {"domain": [-400, 8400], "nice": false, "zero": false}, "axis": {"values": [0,2000,4000,6000,8000], "format": "d", "title": "Overall survival (days)", "tickSize": 3, "labelPadding": 2, "titlePadding": 5, "labelFontSize": 8.5, "titleFontSize": 8.5, "titleFontWeight": "normal", "labelOverlap": false}},
                       "y": {"datum": 0.87, "type": "quantitative", "scale": {"domain": [-0.05, 1.05], "nice": false, "zero": false}, "axis": {"values": [0,0.25,0.5,0.75,1], "format": ".2f", "title": "Survival probability", "tickSize": 3, "labelPadding": 2, "titlePadding": 7, "labelFontSize": 8.5, "titleFontSize": 8.5, "titleFontWeight": "normal", "titleColor": "#333", "labelOverlap": false}},
                       "text": {"field": "a"}}}
       ]}
    ]}
  ]},
  {"width": 100, "height": 20, "data": {"values": [{"l": "(b)"}]}, "mark": {"type": "text", "fontSize": 10.5, "color": "#000"}, "encoding": {"text": {"field": "l"}}}
]
}
